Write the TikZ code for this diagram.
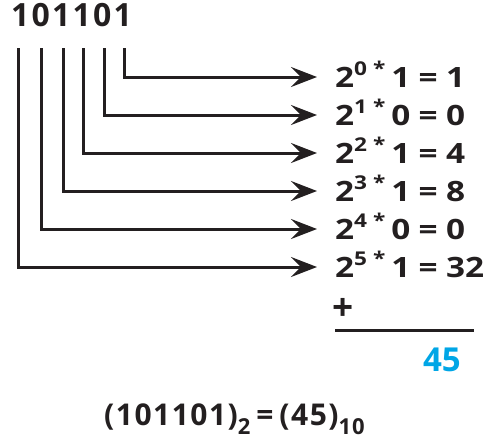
\documentclass[tikz,border=0pt]{standalone}
\usepackage{fontspec}
\setmainfont{Open Sans}
\usetikzlibrary{arrows.meta}
\definecolor{ink}{RGB}{35,31,32}
\definecolor{sumblue}{RGB}{0,166,230}
% superscript / subscript helpers for the bold sans text
\newcommand{\powup}[1]{\raisebox{0.42em}{\fontsize{19}{19}\selectfont #1}}
\newcommand{\basedown}[1]{\raisebox{-0.3em}{\fontsize{22}{22}\selectfont #1}}
\newcommand{\term}[3]{\scalebox{1.19}[1]{2\powup{#1}\hspace{5pt}\powup{*}\hspace{5pt}#2\hspace{7pt}=\hspace{7pt}#3}}
\begin{document}
\begin{tikzpicture}[x=1pt,y=-1pt,
  wire/.style={line width=3pt, draw=ink},
  arr/.style={wire,-{Stealth[length=26pt,width=20pt,inset=10pt]}},
  termnode/.style={anchor=base west, inner sep=0pt, text=ink,
               font=\fontsize{28}{30}\selectfont\bfseries},
  bignum/.style={anchor=base west, inner sep=0pt, text=ink,
               font=\fontsize{32}{34}\selectfont\bfseries\addfontfeatures{LetterSpace=7}},
]
\useasboundingbox (0,0) rectangle (486,445);

% binary number
\node[bignum] (bin) at (11,26) {101101};

% start points of the wires under each bit (2^5 ... 2^0)
\coordinate (b5) at (18,48);
\coordinate (b4) at (41,48);
\coordinate (b3) at (63,48);
\coordinate (b2) at (83,48);
\coordinate (b1) at (104,48);
\coordinate (b0) at (124,48);

% arrow ends
\foreach \k in {0,...,5}{
  \coordinate (e\k) at (317,77+38*\k);
}

% place-value terms
\node[termnode] (t0) at (335,87)  {\term{0}{1}{1}};
\node[termnode] (t1) at (335,125) {\term{1}{0}{0}};
\node[termnode] (t2) at (335,163) {\term{2}{1}{4}};
\node[termnode] (t3) at (335,201) {\term{3}{1}{8}};
\node[termnode] (t4) at (335,239) {\term{4}{0}{0}};
\node[termnode] (t5) at (335,277) {\term{5}{1}{32}};

% connectors
\foreach \k in {0,...,5}{
  \draw[arr] (b\k) |- (e\k);
}

% sum
\node[termnode, font=\fontsize{37}{40}\selectfont\bfseries] (plus) at (332,320) {+};
\coordinate (s1) at (335,330);
\coordinate (s2) at (474,330);
\draw[wire] (s1) -- (s2);
\node[anchor=base east, inner sep=0pt, text=sumblue,
      font=\fontsize{33}{36}\selectfont\bfseries] (sum) at (461,371) {45};

% result
\node[bignum, font=\fontsize{30}{32}\selectfont\bfseries\addfontfeatures{LetterSpace=5}]
  (res) at (104,425) {(101101)\basedown{2}\hspace{6pt}=\hspace{6pt}(45)\basedown{10}};
\end{tikzpicture}
\end{document}
